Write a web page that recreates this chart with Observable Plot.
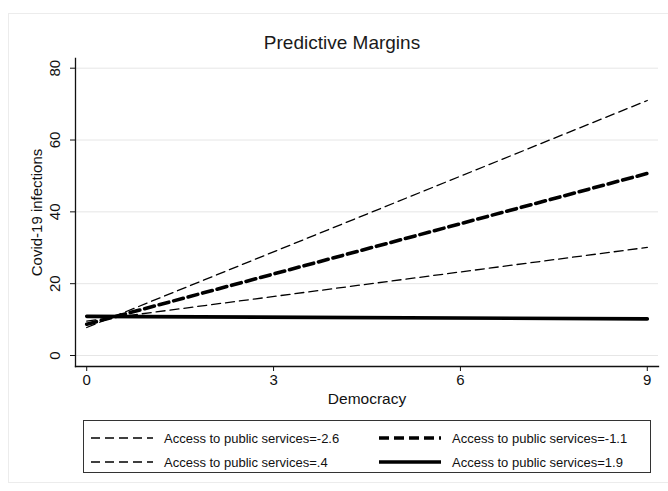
<!DOCTYPE html>
<html>
<head>
<meta charset="utf-8">
<script src="https://cdn.jsdelivr.net/npm/d3@7"></script>
<script src="https://cdn.jsdelivr.net/npm/@observablehq/plot@0.6"></script>
<style>
  html, body { margin: 0; padding: 0; background: #fff; }
  #wrap { position: relative; width: 668px; height: 491px; overflow: hidden; font-family: "Liberation Sans", Arial, Helvetica, sans-serif; color: #111; }
  #border { position: absolute; left: 8px; top: 13px; width: 680px; height: 470px; border: 1px solid #ececec; box-sizing: border-box; }
  #title { position: absolute; left: 0; width: 684px; top: 32px; text-align: center; font-size: 19px; line-height: 22px; color: #1a1a1a; }
  #chart { position: absolute; left: 0; top: 50px; }
  #legend { position: absolute; left: 83px; top: 420px; width: 568px; height: 53px; border: 1.5px solid #333; box-sizing: border-box; }
  .item { position: absolute; height: 20px; display: flex; align-items: center; font-size: 13px; white-space: nowrap; }
  .item svg { margin-right: 11px; }
</style>
</head>
<body>
<div id="wrap">
  <div id="border"></div>
  <div id="title">Predictive Margins</div>
  <div id="chart"></div>
  <div id="legend"></div>
</div>
<script>
// Data
const democracy = [0, 9];
const seriesNames = [
  "Access to public services=-2.6",
  "Access to public services=-1.1",
  "Access to public services=.4",
  "Access to public services=1.9"
];
const valsNeg26 = [7.8, 71.0];
const valsNeg11 = [8.7, 50.7];
const valsPos04 = [9.6, 30.1];
const valsPos19 = [10.9, 10.2];
const xTicks = [0, 3, 6, 9];
const yTicks = [0, 20, 40, 60, 80];

const seriesValues = [valsNeg26, valsNeg11, valsPos04, valsPos19];
const styles = [
  {strokeWidth: 1.3, strokeDasharray: "9,5"},
  {strokeWidth: 3.6, strokeDasharray: "10,5"},
  {strokeWidth: 1.3, strokeDasharray: "9,5"},
  {strokeWidth: 3.6, strokeDasharray: null}
];

const rows = [];
seriesNames.forEach((s, i) => democracy.forEach((x, j) => rows.push({series: s, x, y: seriesValues[i][j]})));

const lineMarks = seriesNames.map((s, i) =>
  Plot.line(rows.filter(r => r.series === s), {
    x: "x", y: "y", stroke: "black",
    strokeWidth: styles[i].strokeWidth,
    ...(styles[i].strokeDasharray ? {strokeDasharray: styles[i].strokeDasharray} : {})
  })
);

const chart = Plot.plot({
  width: 668,
  height: 360,
  marginLeft: 75,
  marginRight: 10,
  marginTop: 8,
  marginBottom: 44,
  x: {domain: [-0.18, 9.18]},
  y: {domain: [-3.06, 82.7]},
  style: {fontFamily: "'Liberation Sans', Arial, Helvetica, sans-serif", fontSize: "15px", color: "#111", background: "transparent"},
  marks: [
    Plot.gridY(yTicks, {stroke: "#e6e6e6", strokeOpacity: 1, strokeWidth: 1}),
    Plot.axisY(yTicks, {tickSize: 5, tickFormat: () => "", label: null, stroke: "#111"}),
    Plot.axisX(xTicks, {tickSize: 5, tickPadding: 3, label: null, fontSize: 15, stroke: "#111"}),
    Plot.frame({anchor: "left", stroke: "#111", strokeWidth: 1.3}),
    Plot.frame({anchor: "bottom", stroke: "#111", strokeWidth: 1.3}),
    Plot.text(yTicks, {y: d => d, text: d => String(d), frameAnchor: "left", textAnchor: "middle", dx: -20, rotate: -90, fontSize: 15, fill: "#111"}),
    Plot.text(["Covid-19 infections"], {frameAnchor: "left", textAnchor: "middle", dx: -38, rotate: -90, fontSize: 15, fill: "#111"}),
    Plot.text(["Democracy"], {frameAnchor: "bottom", dy: 37, fontSize: 15.5, fill: "#111"}),
    ...lineMarks
  ]
});
document.getElementById("chart").appendChild(chart);

// Legend
const legend = document.getElementById("legend");
const pos = [
  {left: 7, top: 7},
  {left: 295, top: 7},
  {left: 7, top: 31},
  {left: 295, top: 31}
];
seriesNames.forEach((s, i) => {
  const it = document.createElement("div");
  it.className = "item";
  it.style.left = pos[i].left + "px";
  it.style.top = pos[i].top + "px";
  const st = styles[i];
  it.innerHTML = `<svg width="62" height="10"><line x1="0" x2="62" y1="5" y2="5" stroke="black" stroke-width="${st.strokeWidth}" ${st.strokeDasharray ? `stroke-dasharray="${st.strokeDasharray}"` : ""}/></svg><span>${s}</span>`;
  legend.appendChild(it);
});
</script>
</body>
</html>
